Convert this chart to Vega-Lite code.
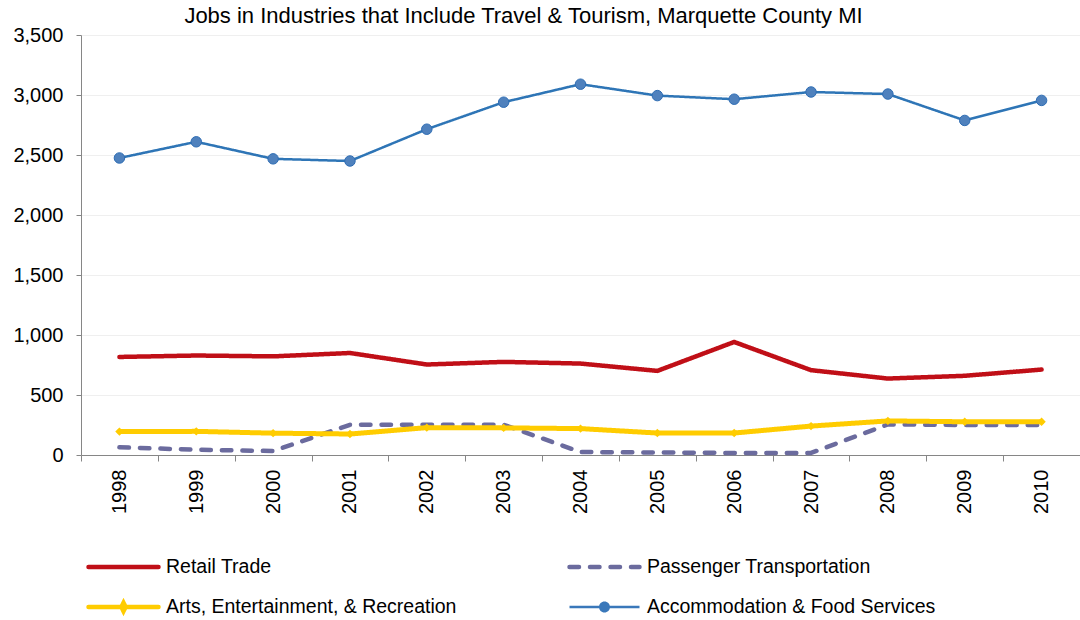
{
 "$schema": "https://vega.github.io/schema/vega-lite/v6.json",
 "width": 999,
 "height": 420,
 "autosize": {"type": "none"},
 "padding": {"left": 81, "top": 35, "right": 0, "bottom": 165},
 "background": "white",
 "title": {"text": "Jobs in Industries that Include Travel & Tourism, Marquette County MI", "font": "Liberation Sans", "fontSize": 22, "fontWeight": "normal", "color": "#000000", "anchor": "middle", "dx": -57, "offset": -3},
 "config": {"view": {"stroke": null}, "font": "Liberation Sans"},
 "data": {"values": [
  {"year": "1998", "series": "Retail Trade", "value": 817},
  {"year": "1999", "series": "Retail Trade", "value": 829},
  {"year": "2000", "series": "Retail Trade", "value": 822},
  {"year": "2001", "series": "Retail Trade", "value": 850},
  {"year": "2002", "series": "Retail Trade", "value": 754},
  {"year": "2003", "series": "Retail Trade", "value": 776},
  {"year": "2004", "series": "Retail Trade", "value": 762},
  {"year": "2005", "series": "Retail Trade", "value": 701},
  {"year": "2006", "series": "Retail Trade", "value": 942},
  {"year": "2007", "series": "Retail Trade", "value": 707},
  {"year": "2008", "series": "Retail Trade", "value": 637},
  {"year": "2009", "series": "Retail Trade", "value": 660},
  {"year": "2010", "series": "Retail Trade", "value": 712},
  {"year": "1998", "series": "Passenger Transportation", "value": 64},
  {"year": "1999", "series": "Passenger Transportation", "value": 44},
  {"year": "2000", "series": "Passenger Transportation", "value": 33},
  {"year": "2001", "series": "Passenger Transportation", "value": 252},
  {"year": "2002", "series": "Passenger Transportation", "value": 253},
  {"year": "2003", "series": "Passenger Transportation", "value": 252},
  {"year": "2004", "series": "Passenger Transportation", "value": 25},
  {"year": "2005", "series": "Passenger Transportation", "value": 21},
  {"year": "2006", "series": "Passenger Transportation", "value": 17},
  {"year": "2007", "series": "Passenger Transportation", "value": 17},
  {"year": "2008", "series": "Passenger Transportation", "value": 255},
  {"year": "2009", "series": "Passenger Transportation", "value": 250},
  {"year": "2010", "series": "Passenger Transportation", "value": 250},
  {"year": "1998", "series": "Arts, Entertainment, & Recreation", "value": 195},
  {"year": "1999", "series": "Arts, Entertainment, & Recreation", "value": 197},
  {"year": "2000", "series": "Arts, Entertainment, & Recreation", "value": 182},
  {"year": "2001", "series": "Arts, Entertainment, & Recreation", "value": 175},
  {"year": "2002", "series": "Arts, Entertainment, & Recreation", "value": 228},
  {"year": "2003", "series": "Arts, Entertainment, & Recreation", "value": 226},
  {"year": "2004", "series": "Arts, Entertainment, & Recreation", "value": 220},
  {"year": "2005", "series": "Arts, Entertainment, & Recreation", "value": 183},
  {"year": "2006", "series": "Arts, Entertainment, & Recreation", "value": 183},
  {"year": "2007", "series": "Arts, Entertainment, & Recreation", "value": 241},
  {"year": "2008", "series": "Arts, Entertainment, & Recreation", "value": 284},
  {"year": "2009", "series": "Arts, Entertainment, & Recreation", "value": 277},
  {"year": "2010", "series": "Arts, Entertainment, & Recreation", "value": 277},
  {"year": "1998", "series": "Accommodation & Food Services", "value": 2475},
  {"year": "1999", "series": "Accommodation & Food Services", "value": 2610},
  {"year": "2000", "series": "Accommodation & Food Services", "value": 2468},
  {"year": "2001", "series": "Accommodation & Food Services", "value": 2450},
  {"year": "2002", "series": "Accommodation & Food Services", "value": 2715},
  {"year": "2003", "series": "Accommodation & Food Services", "value": 2940},
  {"year": "2004", "series": "Accommodation & Food Services", "value": 3090},
  {"year": "2005", "series": "Accommodation & Food Services", "value": 2995},
  {"year": "2006", "series": "Accommodation & Food Services", "value": 2965},
  {"year": "2007", "series": "Accommodation & Food Services", "value": 3025},
  {"year": "2008", "series": "Accommodation & Food Services", "value": 3008},
  {"year": "2009", "series": "Accommodation & Food Services", "value": 2788},
  {"year": "2010", "series": "Accommodation & Food Services", "value": 2955}
 ]},
 "encoding": {
  "x": {"field": "year", "type": "ordinal", "bandPosition": 0.5,
        "scale": {"type": "band", "paddingInner": 0, "paddingOuter": 0},
        "axis": {"title": null, "labelAngle": -90, "labelFontSize": 20, "labelColor": "#000000", "labelFont": "Liberation Sans", "tickBand": "extent", "grid": false, "domainColor": "#868686", "tickColor": "#868686", "tickSize": 6, "labelPadding": 8}},
  "y": {"field": "value", "type": "quantitative",
        "scale": {"domain": [0, 3500], "nice": false},
        "axis": {"title": null, "values": [0, 500, 1000, 1500, 2000, 2500, 3000, 3500], "format": ",.0f", "labelFontSize": 20, "labelColor": "#000000", "labelFont": "Liberation Sans", "domainColor": "#868686", "tickColor": "#868686", "tickSize": 5, "labelPadding": 13, "gridColor": "#EFEFEF"}}
 },
 "layer": [
  {"mark": {"type": "line", "strokeCap": "round", "strokeJoin": "round"},
   "encoding": {
    "color": {"field": "series", "type": "nominal",
      "scale": {"domain": ["Retail Trade", "Arts, Entertainment, & Recreation", "Passenger Transportation", "Accommodation & Food Services"], "range": ["#C00F17", "#FFCC00", "#6B6B9E", "#2E75B6"]},
      "legend": {"title": null, "orient": "none", "legendX": 5, "legendY": 522, "columns": 2, "symbolType": "stroke", "symbolSize": 4900, "symbolStrokeWidth": 4.5, "clipHeight": 20, "labelFontSize": 19.5, "labelFont": "Liberation Sans", "labelColor": "#000000", "labelOffset": 5, "rowPadding": 20, "columnPadding": 110, "labelLimit": 400, "padding": 0,
        "encode": {"symbols": {"update": {
          "shape": {"signal": "datum.value === 'Accommodation & Food Services' ? 'M-1,-0.036H1V0.036H-1ZM0.157,0A0.157,0.157 0 1,1 -0.157,0A0.157,0.157 0 1,1 0.157,0Z' : datum.value === 'Arts, Entertainment, & Recreation' ? 'M-1,0H1M0,-0.12L0.06,0L0,0.12L-0.06,0Z' : 'stroke'"},
          "fill": {"signal": "datum.value === 'Accommodation & Food Services' ? '#3A78BA' : datum.value === 'Arts, Entertainment, & Recreation' ? '#FFCC00' : 'transparent'"},
          "strokeOpacity": {"signal": "datum.value === 'Accommodation & Food Services' ? 0 : 1"},
          "strokeCap": {"value": "round"}
        }}}}},
    "strokeDash": {"field": "series", "type": "nominal",
      "scale": {"domain": ["Retail Trade", "Arts, Entertainment, & Recreation", "Passenger Transportation", "Accommodation & Food Services"], "range": [[1, 0], [1, 0], [9.5, 11], [1, 0]]}},
    "strokeWidth": {"condition": [
        {"test": "datum.series === 'Accommodation & Food Services'", "value": 2.5},
        {"test": "datum.series === 'Arts, Entertainment, & Recreation'", "value": 5}],
      "value": 4.5}
   }},
  {"transform": [{"filter": "datum.series === 'Accommodation & Food Services'"}],
   "mark": {"type": "point", "shape": "circle", "filled": true, "size": 110, "fill": "#4F81BD", "stroke": "#2E6DB4", "strokeWidth": 1, "opacity": 1}},
  {"transform": [{"filter": "datum.series === 'Arts, Entertainment, & Recreation'"}],
   "mark": {"type": "point", "shape": "diamond", "filled": true, "size": 70, "color": "#FFCC00", "opacity": 1}}
 ]
}
